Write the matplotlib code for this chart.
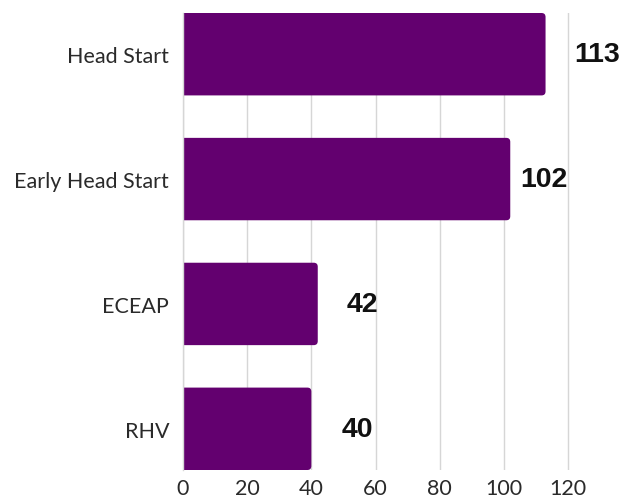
import matplotlib
matplotlib.use("Agg")
import matplotlib.pyplot as plt
from matplotlib.patches import FancyBboxPatch

categories = ["Head Start", "Early Head Start", "ECEAP", "RHV"]
values = [113, 102, 42, 40]
label_offsets_pt = [21, 7, 21, 22]  # label gap from bar end, points
xticks = [0, 20, 40, 60, 80, 100, 120]

color = "#63006f"

fig = plt.figure(figsize=(6.44, 5.02), dpi=100)
ax = fig.add_axes([183/644, 31/502, 458.8/644, 457/502])

ypos = list(range(len(categories)))
bars = ax.barh(ypos, values, height=0.66, color=color, zorder=3)
ax.set_ylim(3.33, -0.33)
ax.set_xlim(0, 143)

# replace bars with right-rounded patches (left corners clipped by axes)
xunit_per_px = 143 / 458.8
yunit_per_px = 3.66 / 457
r_px = 4
for b in bars:
    x, y, w, h = b.get_x(), b.get_y(), b.get_width(), b.get_height()
    b.set_visible(False)
    shift = 3 * r_px * xunit_per_px
    p = FancyBboxPatch((x - shift, y), w + shift, h,
                       boxstyle=f"round,pad=0,rounding_size={r_px*xunit_per_px}",
                       mutation_aspect=yunit_per_px / xunit_per_px,
                       facecolor=color, edgecolor="none", zorder=3)
    ax.add_patch(p)

for yi, v, off in zip(ypos, values, label_offsets_pt):
    ax.annotate(str(v), xy=(v, yi), xytext=(off, 0), textcoords="offset points",
                ha="left", va="center", fontsize=20.5, fontweight="bold",
                family="Liberation Sans", color="#111111")

ax.set_yticks(ypos)
ax.set_yticklabels(categories, family="Lato", fontsize=15.5, color="#2a2a2a")
ax.set_xticks(xticks)
ax.set_xticklabels([str(t) for t in xticks], family="Lato", fontsize=15.5, color="#2a2a2a")
ax.tick_params(axis="y", length=0, pad=10)
ax.tick_params(axis="x", length=0, pad=6)

ax.grid(axis="x", color="#d6d6d6", linewidth=1, zorder=0)
for s in ["top", "right", "bottom"]:
    ax.spines[s].set_visible(False)
ax.spines["left"].set_color("#d6d6d6")
ax.spines["left"].set_linewidth(1)
ax.spines["left"].set_zorder(4)

fig.savefig("out.png", dpi=100)
